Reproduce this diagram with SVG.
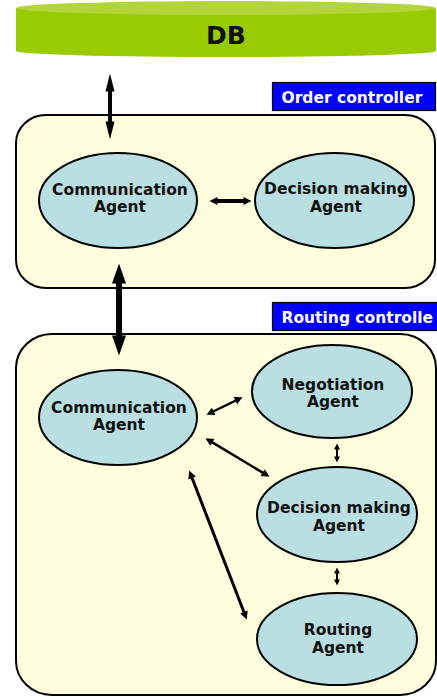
<svg xmlns="http://www.w3.org/2000/svg" width="437" height="697" viewBox="0 0 437 697">
<style>
  .container { fill: #ffffe0; stroke: #000; stroke-width: 2; }
  .agent { fill: #b9dfe2; stroke: #000; stroke-width: 2; }
  .lbl { font-family: "DejaVu Sans", Verdana, sans-serif; font-weight: bold; font-size: 15.5px; fill: #111; text-anchor: middle; }
  .tag { fill: #0000ff; stroke: #000; stroke-width: 1.2; }
  .tagtxt { font-family: "DejaVu Sans", Verdana, sans-serif; font-weight: bold; font-size: 15.5px; fill: #fff; }
  .conn { stroke: #000; fill: none; }
</style>
<defs>
  <marker id="mLong" markerUnits="userSpaceOnUse" markerWidth="19" markerHeight="10" refX="0.5" refY="4.5" orient="auto-start-reverse" overflow="visible">
    <path d="M0,0 L18,4.5 L0,9 Z" fill="#000"/>
  </marker>
  <marker id="mBig" markerUnits="userSpaceOnUse" markerWidth="21" markerHeight="15" refX="0.5" refY="7" orient="auto-start-reverse" overflow="visible">
    <path d="M0,0 L20,7 L0,14 Z" fill="#000"/>
  </marker>
  <marker id="mMid" markerUnits="userSpaceOnUse" markerWidth="9" markerHeight="9" refX="0.5" refY="4" orient="auto-start-reverse" overflow="visible">
    <path d="M0,0 L8,4 L0,8 Z" fill="#000"/>
  </marker>
  <marker id="mTiny" markerUnits="userSpaceOnUse" markerWidth="7" markerHeight="7" refX="0.5" refY="3" orient="auto-start-reverse" overflow="visible">
    <path d="M0,0 L6,3 L0,6 Z" fill="#000"/>
  </marker>
</defs>

<g id="db">
  <path d="M16,8 L16,51 A210,6 0 0 0 436,51 L436,8 Z" fill="#99cc00"/>
  <ellipse cx="226" cy="8" rx="210" ry="7" fill="#b2d53c"/>
  <text x="226" y="44" font-family="DejaVu Sans, Verdana, sans-serif" font-weight="bold" font-size="25" fill="#111" text-anchor="middle">DB</text>
</g>

<g id="order-controller">
  <rect class="container" x="16" y="115" width="419" height="173" rx="30" ry="28"/>
  <rect class="tag" x="272.5" y="82.5" width="163" height="28"/>
  <text class="tagtxt" x="281.5" y="103">Order controller</text>
</g>

<g id="routing-controller">
  <rect class="container" x="16" y="334" width="420" height="361" rx="36" ry="34"/>
  <rect class="tag" x="272.5" y="302.5" width="166" height="28"/>
  <text class="tagtxt" x="281.5" y="323">Routing controlle</text>
</g>

<g id="oc-communication">
  <ellipse class="agent" cx="118" cy="200.5" rx="79" ry="47.5"/>
  <text class="lbl" x="120" y="194.5">Communication</text>
  <text class="lbl" x="120" y="211.5">Agent</text>
</g>

<g id="oc-decision">
  <ellipse class="agent" cx="334.5" cy="200.5" rx="79.5" ry="47.5"/>
  <text class="lbl" x="336" y="194">Decision making</text>
  <text class="lbl" x="336" y="211.5">Agent</text>
</g>

<g id="rc-communication">
  <ellipse class="agent" cx="118" cy="417.5" rx="79" ry="47.5"/>
  <text class="lbl" x="119" y="412.5">Communication</text>
  <text class="lbl" x="119" y="430">Agent</text>
</g>

<g id="rc-negotiation">
  <ellipse class="agent" cx="332" cy="391.5" rx="80" ry="46.5"/>
  <text class="lbl" x="333" y="389.5">Negotiation</text>
  <text class="lbl" x="333" y="407">Agent</text>
</g>

<g id="rc-decision">
  <ellipse class="agent" cx="337" cy="514.5" rx="80" ry="47.5"/>
  <text class="lbl" x="339" y="512.5">Decision making</text>
  <text class="lbl" x="339" y="530.5">Agent</text>
</g>

<g id="rc-routing">
  <ellipse class="agent" cx="337" cy="639" rx="80" ry="46"/>
  <text class="lbl" x="338" y="635">Routing</text>
  <text class="lbl" x="338" y="653">Agent</text>
</g>

<g id="connectors">
  <line class="conn" x1="110" y1="91" x2="110" y2="122" stroke-width="4" marker-start="url(#mLong)" marker-end="url(#mLong)"/>
  <line class="conn" x1="217" y1="201" x2="244" y2="201" stroke-width="4" marker-start="url(#mMid)" marker-end="url(#mMid)"/>
  <line class="conn" x1="119" y1="283" x2="119" y2="336" stroke-width="6" marker-start="url(#mBig)" marker-end="url(#mBig)"/>
  <line class="conn" x1="213.2" y1="411.5" x2="235.8" y2="400.5" stroke-width="2.5" marker-start="url(#mMid)" marker-end="url(#mMid)"/>
  <line class="conn" x1="211.9" y1="442.1" x2="263.1" y2="472.9" stroke-width="2.5" marker-start="url(#mMid)" marker-end="url(#mMid)"/>
  <line class="conn" x1="191.9" y1="477.5" x2="244.1" y2="612.5" stroke-width="3" marker-start="url(#mMid)" marker-end="url(#mMid)"/>
  <line class="conn" x1="337" y1="449" x2="337" y2="457" stroke-width="2" marker-start="url(#mTiny)" marker-end="url(#mTiny)"/>
  <line class="conn" x1="337" y1="573" x2="337" y2="580" stroke-width="2" marker-start="url(#mTiny)" marker-end="url(#mTiny)"/>
</g>
</svg>
